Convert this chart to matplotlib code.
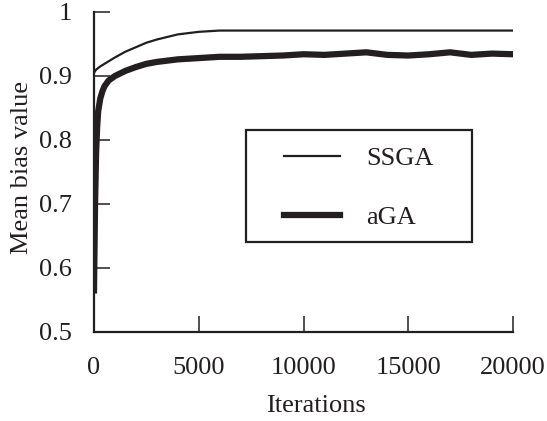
import matplotlib
matplotlib.use("Agg")
import matplotlib.pyplot as plt
from matplotlib.patches import Rectangle

plt.rcParams['font.family'] = ['Liberation Serif', 'DejaVu Serif']

ssga_x = [0, 100, 300, 600, 1000, 1500, 2000, 2500, 3000, 3500, 4000, 4500, 5000,
          5500, 6000, 7000, 8000, 10000, 12000, 14000, 16000, 18000, 20000]
ssga_y = [0.905, 0.910, 0.915, 0.921, 0.929, 0.938, 0.945, 0.952, 0.957, 0.961, 0.965,
          0.967, 0.969, 0.970, 0.971, 0.971, 0.971, 0.971, 0.971, 0.971, 0.971, 0.971, 0.971]

aga_x = [0, 50, 100, 150, 200, 300, 400, 500, 700, 1000, 1500, 2000, 2500, 3000, 4000,
         5000, 6000, 7000, 8000, 9000, 10000, 11000, 12000, 13000, 14000, 15000, 16000,
         17000, 18000, 19000, 20000]
aga_y = [0.565, 0.700, 0.780, 0.820, 0.845, 0.865, 0.876, 0.884, 0.893, 0.900, 0.908,
         0.914, 0.919, 0.922, 0.926, 0.928, 0.930, 0.930, 0.931, 0.932, 0.934, 0.933, 0.935,
         0.937, 0.933, 0.932, 0.934, 0.937, 0.933, 0.935, 0.934]

x_ticks = [0, 5000, 10000, 15000, 20000]
y_ticks = [0.5, 0.6, 0.7, 0.8, 0.9, 1.0]
y_labels = ['0.5', '0.6', '0.7', '0.8', '0.9', '1']

W, H = 547, 421
C = '#231f20'
FS = 19

fig = plt.figure(figsize=(W / 100, H / 100), dpi=100)
ax = fig.add_axes([94 / W, 1 - 332 / H, (513 - 94) / W, (332 - 12) / H])

ax.plot(ssga_x, ssga_y, color=C, lw=1.6, label='SSGA')
ax.plot(aga_x, aga_y, color=C, lw=4.5, label='aGA')

ax.set_xlim(0, 20000)
ax.set_ylim(0.5, 1.0)
ax.set_xticks(x_ticks)
ax.set_xticklabels([str(v) for v in x_ticks])
ax.set_yticks(y_ticks)
ax.set_yticklabels(y_labels)
for s in ['top', 'right']:
    ax.spines[s].set_visible(False)
for s in ['left', 'bottom']:
    ax.spines[s].set_linewidth(1.6)
    ax.spines[s].set_color(C)
ax.tick_params(direction='in', length=11.5, width=1.1, color=C, labelsize=FS,
               labelcolor=C)
ax.tick_params(axis='x', pad=18)
ax.tick_params(axis='y', pad=16)

fig.text(22 / W, 1 - 167 / H, 'Mean bias value', rotation=90, ha='center', va='center',
         fontsize=FS, color=C)
fig.text(316 / W, 1 - 412 / H, 'Iterations', ha='center', va='baseline',
         fontsize=FS, color=C)

leg = ax.legend(loc='upper left', bbox_to_anchor=(284 / W, 1 - 147 / H),
                bbox_transform=fig.transFigure, frameon=False, fontsize=FS,
                handlelength=2.12, handletextpad=0.98, labelspacing=1.32,
                borderpad=0, borderaxespad=0)
for t in leg.get_texts():
    t.set_color(C)

fig.patches.append(Rectangle((246 / W, 1 - 242 / H), (472 - 246) / W, (242 - 130) / H,
                             transform=fig.transFigure, fill=False, edgecolor=C,
                             linewidth=1.6, figure=fig))

fig.savefig('out.png', dpi=100)
